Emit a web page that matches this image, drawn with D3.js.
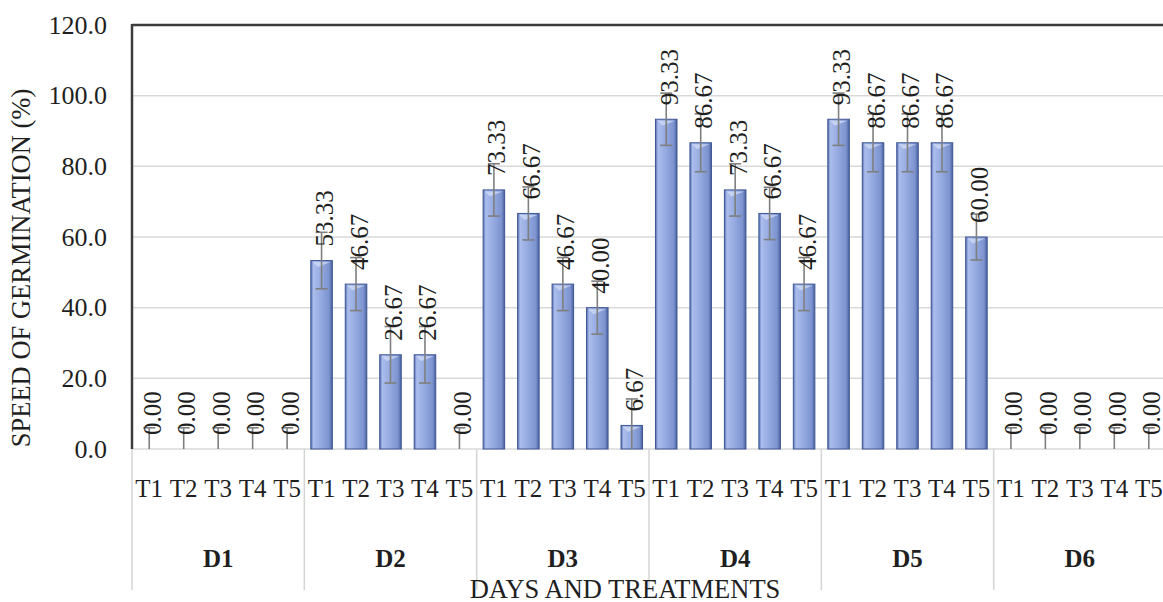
<!DOCTYPE html>
<html>
<head>
<meta charset="utf-8">
<script src="https://cdn.jsdelivr.net/npm/d3@7"></script>
<style>
  body { margin: 0; background: #fff; }
  text { font-family: "Liberation Serif", "Times New Roman", serif; fill: #1f1f1f; }
</style>
</head>
<body>
<div id="chart"></div>
<script>
// data
var days = ["D1", "D2", "D3", "D4", "D5", "D6"];
var treatments = ["T1", "T2", "T3", "T4", "T5"];
var values = [
  [0, 0, 0, 0, 0],
  [53.33, 46.67, 26.67, 26.67, 0],
  [73.33, 66.67, 46.67, 40.00, 6.67],
  [93.33, 86.67, 73.33, 66.67, 46.67],
  [93.33, 86.67, 86.67, 86.67, 60.00],
  [0, 0, 0, 0, 0]
];
var errors = [
  [6, 6, 6, 6, 6],
  [8, 7.5, 8, 8, 6],
  [7.4, 7.5, 7.5, 7.5, 7.5],
  [7.4, 8.2, 7.4, 7.4, 7.5],
  [7.4, 8.2, 8.2, 8.2, 6.5],
  [6, 6, 6, 6, 6]
];
var yTicks = [0, 20, 40, 60, 80, 100, 120];

var W = 1163, H = 602;
var plotL = 132, plotR = 1166, plotT = 25, plotB = 449;

var rows = [];
days.forEach(function (d, i) {
  treatments.forEach(function (t, j) {
    rows.push({ key: d + "-" + t, day: d, t: t, v: values[i][j], e: errors[i][j] });
  });
});

var svg = d3.select("#chart").append("svg").attr("width", W).attr("height", H);

var x0 = d3.scaleBand().domain(days).range([plotL, plotR]);
var x = d3.scaleBand().domain(rows.map(function (d) { return d.key; }))
  .range([plotL, plotR]).paddingInner(0.375).paddingOuter(0.1875);
var y = d3.scaleLinear().domain([0, 120]).range([plotB, plotT]);

var defs = svg.append("defs");
var grad = defs.append("linearGradient").attr("id", "barfill").attr("x1", "0").attr("x2", "1").attr("y1", "0").attr("y2", "0");
[["0%", "#566db0"], ["12%", "#abbdec"], ["45%", "#96abe1"], ["85%", "#7c93cf"], ["100%", "#48609e"]].forEach(function (s) {
  grad.append("stop").attr("offset", s[0]).attr("stop-color", s[1]);
});
defs.append("clipPath").attr("id", "plotclip").append("rect")
  .attr("x", plotL).attr("y", plotT).attr("width", plotR - plotL).attr("height", plotB - plotT);

// gridlines
svg.append("g").selectAll("line").data(yTicks.slice(1, -1)).enter().append("line")
  .attr("x1", plotL).attr("x2", plotR)
  .attr("y1", function (d) { return y(d); }).attr("y2", function (d) { return y(d); })
  .style("stroke", "#d9d9d9").style("stroke-width", 1.5);

// category axis line and group separators
svg.append("line").attr("x1", plotL).attr("x2", plotR).attr("y1", plotB).attr("y2", plotB)
  .style("stroke", "#d9d9d9").style("stroke-width", 1.5);
svg.append("g").selectAll("line").data(days.concat(["end"])).enter().append("line")
  .attr("x1", function (d) { return d == "end" ? plotR : x0(d); })
  .attr("x2", function (d) { return d == "end" ? plotR : x0(d); })
  .attr("y1", plotB).attr("y2", 590)
  .style("stroke", "#d4d4d4").style("stroke-width", 1.5);

// plot border (top and left)
svg.append("line").attr("x1", plotL).attr("x2", plotR).attr("y1", plotT).attr("y2", plotT)
  .style("stroke", "#3c3c3c").style("stroke-width", 2.5);
svg.append("line").attr("x1", plotL).attr("x2", plotL).attr("y1", plotT - 1).attr("y2", plotB)
  .style("stroke", "#3c3c3c").style("stroke-width", 2.5);

// bars
var bars = svg.append("g").selectAll("g").data(rows.filter(function (d) { return d.v > 0; })).enter().append("g");
bars.append("rect")
  .attr("x", function (d) { return x(d.key); })
  .attr("y", function (d) { return y(d.v); })
  .attr("width", x.bandwidth())
  .attr("height", function (d) { return plotB - y(d.v); })
  .style("fill", "url(#barfill)")
  .style("stroke", "#3f5795").style("stroke-width", 1);
// small bevel highlight on the top edge
bars.append("path")
  .attr("d", function (d) {
    var x1 = x(d.key) + 2, x2 = x(d.key) + x.bandwidth() - 2, yt = y(d.v) + 1.5;
    return "M" + x1 + "," + yt + "L" + x2 + "," + yt + "L" + (x1 + 5) + "," + (yt + 5) + "Z";
  })
  .style("fill", "#d6def5").style("opacity", 0.7);

// error bars
var eb = svg.append("g").attr("clip-path", "url(#plotclip)")
  .selectAll("g").data(rows).enter().append("g")
  .style("stroke", "#7f7f7f").style("stroke-width", 1.6);
var cx = function (d) { return x(d.key) + x.bandwidth() / 2; };
eb.append("line")
  .attr("x1", cx).attr("x2", cx)
  .attr("y1", function (d) { return y(d.v + d.e); })
  .attr("y2", function (d) { return y(d.v - d.e); });
[1, -1].forEach(function (s) {
  eb.append("line")
    .attr("x1", function (d) { return cx(d) - 6; }).attr("x2", function (d) { return cx(d) + 6; })
    .attr("y1", function (d) { return y(d.v + s * d.e); })
    .attr("y2", function (d) { return y(d.v + s * d.e); });
});

// data labels
svg.append("g").selectAll("text").data(rows).enter().append("text")
  .attr("transform", function (d) { return "translate(" + (cx(d) + 3) + "," + (y(d.v) - 14) + ") rotate(-90)"; })
  .attr("dominant-baseline", "central")
  .style("font-size", "25px")
  .text(function (d) { return d.v.toFixed(2); });

// y tick labels
svg.append("g").selectAll("text").data(yTicks).enter().append("text")
  .attr("x", 107).attr("y", function (d) { return y(d); })
  .attr("text-anchor", "end").attr("dominant-baseline", "central")
  .style("font-size", "26px")
  .text(function (d) { return d.toFixed(1); });

// category labels
svg.append("g").selectAll("text").data(rows).enter().append("text")
  .attr("x", cx).attr("y", 497)
  .attr("text-anchor", "middle")
  .style("font-size", "25px")
  .text(function (d) { return d.t; });
svg.append("g").selectAll("text").data(days).enter().append("text")
  .attr("x", function (d) { return x0(d) + x0.bandwidth() / 2; }).attr("y", 567)
  .attr("text-anchor", "middle")
  .style("font-size", "25px").style("font-weight", "bold")
  .text(function (d) { return d; });

// axis titles
svg.append("text").attr("x", 625).attr("y", 598)
  .attr("text-anchor", "middle").style("font-size", "26.5px")
  .text("DAYS AND TREATMENTS");
svg.append("text")
  .attr("transform", "translate(21,268) rotate(-90)")
  .attr("text-anchor", "middle").attr("dominant-baseline", "central")
  .style("font-size", "26.5px")
  .text("SPEED OF GERMINATION (%)");
</script>
</body>
</html>
